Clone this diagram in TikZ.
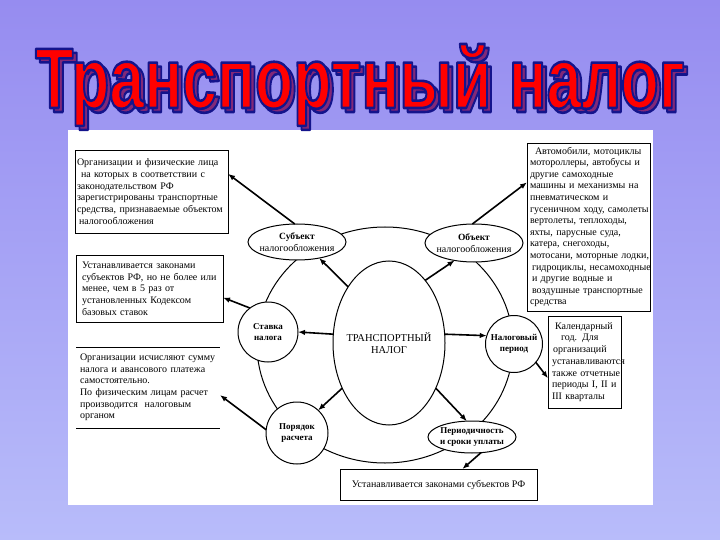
\documentclass[tikz,border=0pt]{standalone}
\usepackage{fontspec}
\setmainfont{Liberation Serif}
\newfontfamily\titlefont{Liberation Sans}
\usetikzlibrary{shapes.geometric,arrows.meta,calc}
\definecolor{bgtop}{RGB}{150,140,240}
\definecolor{bgbot}{RGB}{184,188,250}
\definecolor{ttlred}{RGB}{255,0,0}
\definecolor{ttlline}{RGB}{20,20,140}
\definecolor{ttlshadow}{RGB}{130,40,120}
\newcommand\zw[1]{\makebox[0pt]{#1}}
\newcommand\LL[1]{\mbox{#1}}
\newcommand\ttltext{\scalebox{0.729}[1]{\titlefont\bfseries\fontsize{86}{86}\selectfont\special{pdf:literal 0.08 0.08 0.55 RG 2.6 w 1 j 2 Tr}Транспортный налог\special{pdf:literal 0 Tr}}}
\begin{document}
\begin{tikzpicture}[x=1pt,y=-1pt,
  every node/.style={inner sep=0pt,outer sep=0pt},
  infobox/.style={draw=black,line width=0.8pt,fill=white,font=\fontsize{10}{11.7}\selectfont,align=left,inner ysep=0pt},
  bubble/.style={draw=black,line width=1pt,fill=white,font=\fontsize{10}{11.5}\selectfont,align=center},
  boldbubble/.style={bubble,font=\bfseries\fontsize{9}{11.5}\selectfont},
  ring/.style={draw=black,line width=1pt},
  arr/.style={line width=1.6pt,-{Latex[length=7pt,width=5.5pt]}},
  ttl/.style={anchor=base}
]
\shade[top color=bgtop,bottom color=bgbot] (0,0) rectangle (720,540);
\useasboundingbox (0,0) rectangle (720,540);
\fill[white] (68,130) rectangle (653,505);

% title
\node[ttl,text=ttlshadow] (titleshadow) at (364,112) {\ttltext};
\node[ttl,text=ttlred] (title) at (360,108) {\ttltext};

% ring
\draw[ring] (385,345) ellipse [x radius=128, y radius=118];

% boxes
\node[infobox,text width=149pt,inner xsep=2pt,minimum height=83pt] (box1) at (151.5,191.5)
 {\LL{Организации и физические лица}\\
  \LL{\hspace*{4pt}на которых в соответствии с}\\
  \LL{законодательством РФ}\\
  \LL{зарегистрированы транспортные}\\
  \LL{средства, признаваемые объектом}\\
  \LL{\hspace*{2pt}налогообложения}};
\node[infobox,text width=135pt,inner xsep=6pt,minimum height=67pt] (box2) at (149.5,288.5)
 {\LL{Устанавливается законами}\\
  \LL{субъектов РФ, но не более или}\\
  \LL{менее, чем в 5 раз от}\\
  \LL{установленных Кодексом}\\
  \LL{базовых ставок}};
\node[infobox,draw=none,fill=none,text width=136pt,inner xsep=4pt,minimum height=81pt] (box3) at (148,387.5)
 {\LL{Организации исчисляют сумму}\\
  \LL{налога и авансового платежа}\\
  \LL{самостоятельно.}\\
  \LL{По физическим лицам расчет}\\
  \LL{производится\ \ налоговым}\\
  \LL{органом}};
\draw[line width=0.8pt] (box3.north west) -- (box3.north east);
\draw[line width=0.8pt] (box3.south west) -- (box3.south east);
\node[infobox,font=\fontsize{10}{11.6}\selectfont,text width=117pt,inner xsep=3pt,minimum height=168pt] (box4) at (588.5,227)
 {\LL{\hspace*{5pt}Автомобили, мотоциклы}\\
  \LL{мотороллеры, автобусы и}\\
  \LL{другие самоходные}\\
  \LL{машины и механизмы на}\\
  \LL{пневматическом и}\\
  \LL{гусеничном ходу, самолеты}\\
  \LL{вертолеты, теплоходы,}\\
  \LL{яхты, парусные суда,}\\
  \LL{катера, снегоходы,}\\
  \LL{мотосани, моторные лодки,}\\
  \LL{\hspace*{2pt}гидроциклы, несамоходные}\\
  \LL{\hspace*{2pt}и другие водные и}\\
  \LL{\hspace*{2pt}воздушные транспортные}\\
  \LL{средства}};
\node[infobox,text width=65pt,inner xsep=4pt,minimum height=92pt] (box5) at (584.5,362)
 {\LL{\hspace*{3pt}Календарный}\\
  \LL{\hspace*{9pt}год. Для}\\
  \LL{\hspace*{1pt}организаций}\\
  \LL{устанавливаются}\\
  \LL{также отчетные}\\
  \LL{периоды I, II и}\\
  \LL{III кварталы}};
\node[infobox,align=center,minimum width=197pt,minimum height=31pt] (box6) at (438.5,484.5)
 {Устанавливается законами субъектов РФ};

% bubbles
\node[bubble,ellipse,minimum width=98pt,minimum height=36pt] (sub) at (297,242)
 {\zw{\bfseries\fontsize{9.5}{11.5}\selectfont Субъект}\\\zw{налогообложения}};
\node[bubble,ellipse,minimum width=98pt,minimum height=38pt] (obj) at (474,243)
 {\zw{\bfseries\fontsize{9.5}{11.5}\selectfont Объект}\\\zw{налогообложения}};
\node[bubble,ellipse,minimum width=112pt,minimum height=164pt,font=\fontsize{10.5}{12.5}\selectfont] (tax) at (389,343)
 {\zw{ТРАНСПОРТНЫЙ}\\\zw{НАЛОГ}};
\node[boldbubble,circle,minimum size=60pt] (rate) at (268,332)
 {\zw{Ставка}\\\zw{налога}};
\node[boldbubble,circle,minimum size=57pt] (period) at (514,344)
 {\zw{Налоговый}\\\zw{период}};
\node[boldbubble,circle,minimum size=62pt] (calc) at (297,433)
 {\zw{Порядок}\\\zw{расчета}};
\node[boldbubble,ellipse,minimum width=88pt,minimum height=32pt] (terms) at (472,437)
 {\zw{Периодичность}\\\zw{и сроки уплаты}};

% arrows
\draw[arr] (sub.97) -- (box1.13);
\draw[arr] (obj.95) -- (box4.144);
\draw[arr] (tax.126) -- (sub.-36);
\draw[arr] (tax.60) -- (obj.-138);
\draw[arr] (tax.171) -- (rate.0);
\draw[arr] (tax.9) -- (period.163);
\draw[arr] (tax.-136) -- (calc.47);
\draw[arr] (tax.-44) -- (terms.108);
\draw[arr] (rate.127) -- (box2.-7);
\draw[arr] (calc.174) -- (box3.-6);
\draw[arr] (period.-40) -- (box5.204);
\draw[arr] (terms.-60) -- (box6.33);
\end{tikzpicture}
\end{document}
